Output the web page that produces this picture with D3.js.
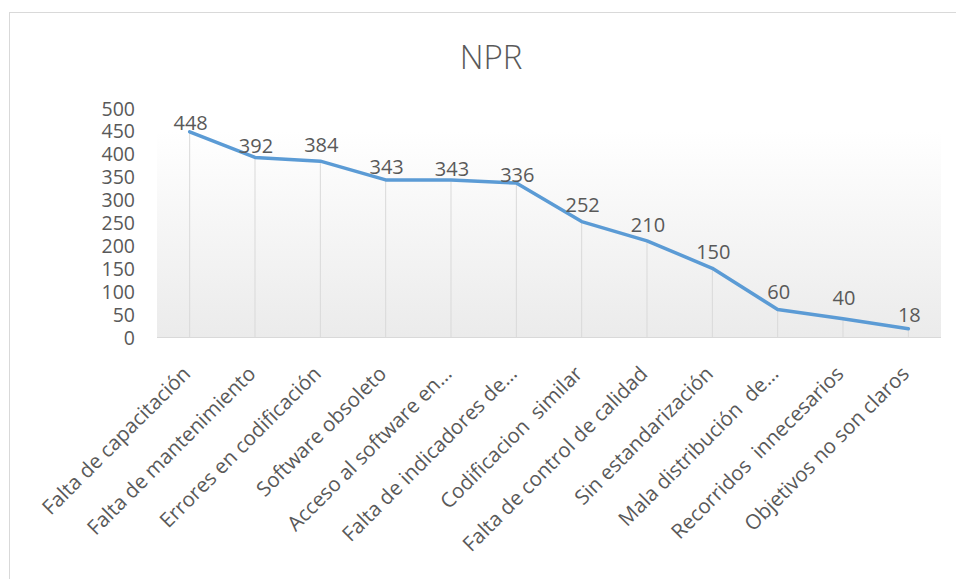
<!DOCTYPE html>
<html>
<head>
<meta charset="utf-8">
<script src="https://cdn.jsdelivr.net/npm/d3@7"></script>
<style>
  html, body { margin: 0; padding: 0; background: #ffffff; }
  svg { display: block; }
  text { font-family: "Open Sans", "Noto Sans", sans-serif; fill: #595959; white-space: pre; }
</style>
</head>
<body>
<svg id="chart" width="956" height="579"></svg>
<script>
// NPR per failure cause
const categories = [
  "Falta de capacitación",
  "Falta de mantenimiento",
  "Errores en codificación",
  "Software obsoleto",
  "Acceso al software en…",
  "Falta de indicadores de…",
  "Codificacion  similar",
  "Falta de control de calidad",
  "Sin estandarización",
  "Mala distribución  de…",
  "Recorridos  innecesarios",
  "Objetivos no son claros"
];
const npr = [448, 392, 384, 343, 343, 336, 252, 210, 150, 60, 40, 18];
const yTicks = [0, 50, 100, 150, 200, 250, 300, 350, 400, 450, 500];
const title = "NPR";

const svg = d3.select("#chart");
const W = 956, H = 579;
const plot = { left: 157, right: 941, top: 108, bottom: 337 };

// chart frame
svg.append("rect")
  .attr("x", 9.5).attr("y", 12.5)
  .attr("width", W).attr("height", H)
  .attr("fill", "#ffffff")
  .attr("stroke", "#d9d9d9").attr("stroke-width", 1);

const defs = svg.append("defs");
const grad = defs.append("linearGradient")
  .attr("id", "plotFill").attr("x1", 0).attr("y1", 0).attr("x2", 0).attr("y2", 1);
grad.append("stop").attr("offset", "0%").attr("stop-color", "#ffffff");
grad.append("stop").attr("offset", "100%").attr("stop-color", "#ebebeb");

const x = d3.scaleBand().domain(categories).range([plot.left, plot.right]);
const y = d3.scaleLinear().domain([0, 500]).range([plot.bottom, plot.top]);
const cx = d => x(d) + x.bandwidth() / 2;

// plot area background
svg.append("rect")
  .attr("x", plot.left).attr("y", y(450))
  .attr("width", plot.right - plot.left).attr("height", plot.bottom - y(450))
  .attr("fill", "url(#plotFill)");

// title
svg.append("text")
  .attr("x", 491).attr("y", 69)
  .attr("text-anchor", "middle")
  .attr("font-size", 33)
  .attr("font-weight", 300)
  .text(title);

// y axis labels
const yAxis = d3.axisLeft(y).tickValues(yTicks).tickSize(0).tickPadding(0);
const gy = svg.append("g").attr("transform", "translate(135,0)").call(yAxis);
gy.select(".domain").remove();
gy.selectAll("text")
  .attr("font-size", 19.5)
  .attr("fill", "#595959")
  .attr("font-family", "\"Open Sans\", sans-serif")
  .attr("dy", "0.36em");

// drop lines from each point to the axis
svg.append("g").selectAll("line")
  .data(categories)
  .join("line")
  .attr("x1", d => cx(d)).attr("x2", d => cx(d))
  .attr("y1", (d, i) => y(npr[i])).attr("y2", plot.bottom)
  .attr("stroke", "#d9d9d9").attr("stroke-width", 1);

// category axis baseline
svg.append("line")
  .attr("x1", plot.left).attr("x2", plot.right)
  .attr("y1", plot.bottom + 0.5).attr("y2", plot.bottom + 0.5)
  .attr("stroke", "#d9d9d9").attr("stroke-width", 1);

// category labels, rotated
svg.append("g").selectAll("text")
  .data(categories)
  .join("text")
  .attr("transform", d => `translate(${cx(d) + 2},${plot.bottom + 38}) rotate(-45)`)
  .attr("text-anchor", "end")
  .attr("font-size", 20.5)
  .text(d => d);

// the NPR line
const line = d3.line()
  .x((d, i) => cx(categories[i]))
  .y(d => y(d));
svg.append("path")
  .datum(npr)
  .attr("d", line)
  .attr("fill", "none")
  .attr("stroke", "#5b9bd5")
  .attr("stroke-width", 3.5)
  .attr("stroke-linejoin", "round")
  .attr("stroke-linecap", "round");

// value labels sit just above their points; small per-label lift (px)
const labelLift = [1.5, 4.5, 9, 5.5, 3.5, 1.5, 9.5, 9, 9, 11, 14, 7];
svg.append("g").selectAll("text")
  .data(npr)
  .join("text")
  .attr("x", (d, i) => cx(categories[i]) + 1)
  .attr("y", (d, i) => y(d) - labelLift[i])
  .attr("text-anchor", "middle")
  .attr("font-size", 20)
  .text(d => d);
</script>
</body>
</html>
